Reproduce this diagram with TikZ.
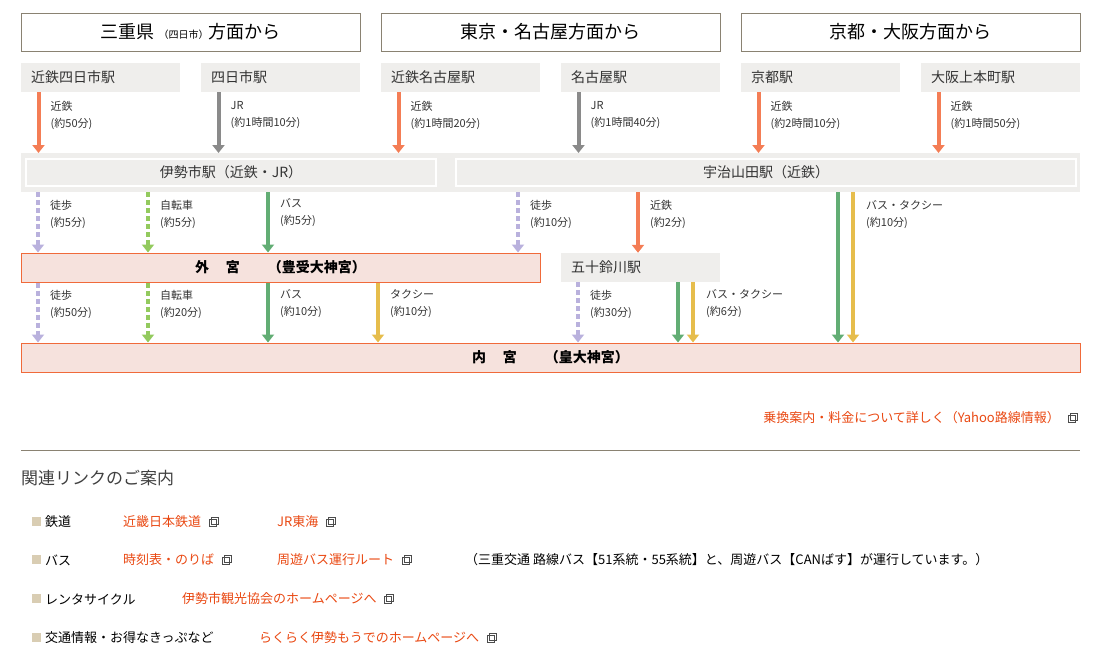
\documentclass[tikz,border=0pt]{standalone}
\usepackage{fontspec}
\setmainfont{Noto Sans CJK JP}
\usetikzlibrary{arrows.meta,positioning}
\definecolor{boxgray}{HTML}{EFEEEC}
\definecolor{hdrline}{HTML}{8A8272}
\definecolor{kintetsu}{HTML}{F47D55}
\definecolor{jrgray}{HTML}{8A8A8A}
\definecolor{walk}{HTML}{B9B1DD}
\definecolor{bike}{HTML}{93CA5E}
\definecolor{bus}{HTML}{62AD74}
\definecolor{taxi}{HTML}{E6BD4C}
\definecolor{shrine}{HTML}{F6E2DD}
\definecolor{shrineline}{HTML}{F06A3A}
\definecolor{linkred}{HTML}{E94812}
\definecolor{bullet}{HTML}{D9CDB3}
\tikzset{
  hdr/.style={draw=hdrline, line width=1pt, minimum width=339pt, minimum height=38pt, inner sep=0pt, font=\fontsize{18}{18}\selectfont},
  sta/.style={fill=boxgray, minimum width=159pt, minimum height=29pt, inner sep=0pt, text width=139pt, font=\fontsize{14}{14}\selectfont, text=black!80},
  hub/.style={fill=boxgray, draw=white, line width=2pt, minimum height=27pt, inner sep=0pt, font=\fontsize{14}{14}\selectfont, text=black!80},
  jingu/.style={fill=shrine, draw=shrineline, line width=1pt, minimum height=29pt, inner sep=0pt, font=\bfseries\fontsize{14}{14}\selectfont},
  route/.style={line width=4pt, -{Triangle[width=12pt,length=8pt]}},
  dotted route/.style={route, dash pattern=on 5pt off 3pt},
  lbl/.style={anchor=north west, align=left, inner sep=0pt, font=\fontsize{11}{17}\selectfont, text=black!80},
  lnk/.style={anchor=west, inner sep=0pt, font=\fontsize{13}{13}\selectfont, text=linkred},
  txt/.style={anchor=west, inner sep=0pt, font=\fontsize{13}{13}\selectfont},
}
\newcommand{\winicon}[1]{%
  \draw[black!70, line width=0.8pt] ([xshift=8pt,yshift=3pt]#1) rectangle ++(7pt,-7pt);
  \draw[black!70, line width=0.8pt] ([xshift=10pt,yshift=5pt]#1) rectangle ++(7pt,-7pt);}
\begin{document}
\begin{tikzpicture}[x=1pt,y=-1pt]
\useasboundingbox (0,0) rectangle (1103,662);

% headers
\node[hdr] (hmie) at (190.5,32) {三重県 {\fontsize{10}{10}\selectfont（四日市）}方面から};
\node[hdr] (htky) at (550.5,32) {東京・名古屋方面から};
\node[hdr] (hkyo) at (910.5,32) {京都・大阪方面から};

% departure stations
\node[sta] (kyok) at (100.5,77.5) {近鉄四日市駅};
\node[sta] (yokk) at (280.5,77.5) {四日市駅};
\node[sta] (kngy) at (460.5,77.5) {近鉄名古屋駅};
\node[sta] (ngy)  at (640.5,77.5) {名古屋駅};
\node[sta] (kyt)  at (820.5,77.5) {京都駅};
\node[sta] (osk)  at (1000.5,77.5) {大阪上本町駅};

% transfer band
\fill[boxgray] (21,153) rectangle (1080,192);
\node[hub, minimum width=410pt] (ise) at (231,172.5) {伊勢市駅（近鉄・JR）};
\node[hub, minimum width=620pt] (uji) at (766,172.5) {宇治山田駅（近鉄）};
\coordinate (band) at (21,153);

% shrines and isuzugawa
\node[jingu, minimum width=519pt] (geku) at (280.5,267.5) {外\hspace{1.2em}宮\hspace{2em}（豊受大神宮）};
\node[sta] (isz) at (640.5,267.5) {五十鈴川駅};
\node[jingu, minimum width=1059pt] (naiku) at (550.5,357.5) {内\hspace{1.2em}宮\hspace{2em}（皇大神宮）};

% to ise / uji
\draw[route, kintetsu] ([xshift=-62pt]kyok.south) -- ([xshift=-62pt]kyok.south |- band);
\node[lbl] at ([xshift=-50pt,yshift=-9pt]kyok.south) {近鉄\\(約50分)};
\draw[route, jrgray] ([xshift=-62pt]yokk.south) -- ([xshift=-62pt]yokk.south |- band);
\node[lbl] at ([xshift=-50pt,yshift=-9pt]yokk.south) {JR\\(約1時間10分)};
\draw[route, kintetsu] ([xshift=-62pt]kngy.south) -- ([xshift=-62pt]kngy.south |- band);
\node[lbl] at ([xshift=-50pt,yshift=-9pt]kngy.south) {近鉄\\(約1時間20分)};
\draw[route, jrgray] ([xshift=-62pt]ngy.south) -- ([xshift=-62pt]ngy.south |- band);
\node[lbl] at ([xshift=-50pt,yshift=-9pt]ngy.south) {JR\\(約1時間40分)};
\draw[route, kintetsu] ([xshift=-62pt]kyt.south) -- ([xshift=-62pt]kyt.south |- band);
\node[lbl] at ([xshift=-50pt,yshift=-9pt]kyt.south) {近鉄\\(約2時間10分)};
\draw[route, kintetsu] ([xshift=-62pt]osk.south) -- ([xshift=-62pt]osk.south |- band);
\node[lbl] at ([xshift=-50pt,yshift=-9pt]osk.south) {近鉄\\(約1時間50分)};

% ise / uji to geku, isuzugawa, naiku
\draw[dotted route, walk] (38,192) -- (38,0 |- geku.north);
\node[lbl] at (50,200) {徒歩\\(約5分)};
\draw[dotted route, bike] (148,192) -- (148,0 |- geku.north);
\node[lbl] at (160,200) {自転車\\(約5分)};
\draw[route, bus] (268,192) -- (268,0 |- geku.north);
\node[lbl] at (280,198) {バス\\(約5分)};
\draw[dotted route, walk] (518,192) -- (518,0 |- geku.north);
\node[lbl] at (530,200) {徒歩\\(約10分)};
\draw[route, kintetsu] (638,192) -- (638,0 |- isz.north);
\node[lbl] at (650,200) {近鉄\\(約2分)};
\draw[route, bus] (838,192) -- (838,0 |- naiku.north);
\draw[route, taxi] (853,192) -- (853,0 |- naiku.north);
\node[lbl] at (866,200) {バス・タクシー\\(約10分)};

% geku to naiku
\draw[dotted route, walk] (38,0 |- geku.south) -- (38,0 |- naiku.north);
\node[lbl] at (50,290) {徒歩\\(約50分)};
\draw[dotted route, bike] (148,0 |- geku.south) -- (148,0 |- naiku.north);
\node[lbl] at (160,290) {自転車\\(約20分)};
\draw[route, bus] (268,0 |- geku.south) -- (268,0 |- naiku.north);
\node[lbl] at (280,289) {バス\\(約10分)};
\draw[route, taxi] (378,0 |- geku.south) -- (378,0 |- naiku.north);
\node[lbl] at (390,289) {タクシー\\(約10分)};

% isuzugawa to naiku
\draw[dotted route, walk] (578,0 |- isz.south) -- (578,0 |- naiku.north);
\node[lbl] at (590,290) {徒歩\\(約30分)};
\draw[route, bus] (678,0 |- isz.south) -- (678,0 |- naiku.north);
\draw[route, taxi] (693,0 |- isz.south) -- (693,0 |- naiku.north);
\node[lbl] at (706,289) {バス・タクシー\\(約6分)};

% yahoo link
\node[lnk, anchor=east] (yahoo) at (1060,418) {乗換案内・料金について詳しく（Yahoo路線情報）};
\winicon{yahoo.east}
\draw[hdrline, line width=1pt] (21,450) -- (1080,450);

% related links
\node[txt, font=\fontsize{17}{17}\selectfont, text=black!75] (rel) at (21,478) {関連リンクのご案内};
\foreach \y/\cat in {522/鉄道, 560/バス, 599/レンタサイクル, 638/交通情報・お得なきっぷなど} {
  \fill[bullet] (32,\y-5) rectangle (41,\y+4);
  \node[txt] at (45,\y) {\cat};
}
\node[lnk] (kin) at (123,522) {近畿日本鉄道}; \winicon{kin.east}
\node[lnk] (jrc) at (277,522) {JR東海}; \winicon{jrc.east}
\node[lnk] (jik) at (123,560) {時刻表・のりば}; \winicon{jik.east}
\node[lnk] (shu) at (277,560) {周遊バス運行ルート}; \winicon{shu.east}
\node[txt] (note) at (465,560) {（三重交通\ 路線バス【51系統・55系統】と、周遊バス【CANばす】が運行しています。）};
\node[lnk] (kan) at (182,599) {伊勢市観光協会のホームページへ}; \winicon{kan.east}
\node[lnk] (raku) at (259,638) {らくらく伊勢もうでのホームページへ}; \winicon{raku.east}
\end{tikzpicture}
\end{document}
